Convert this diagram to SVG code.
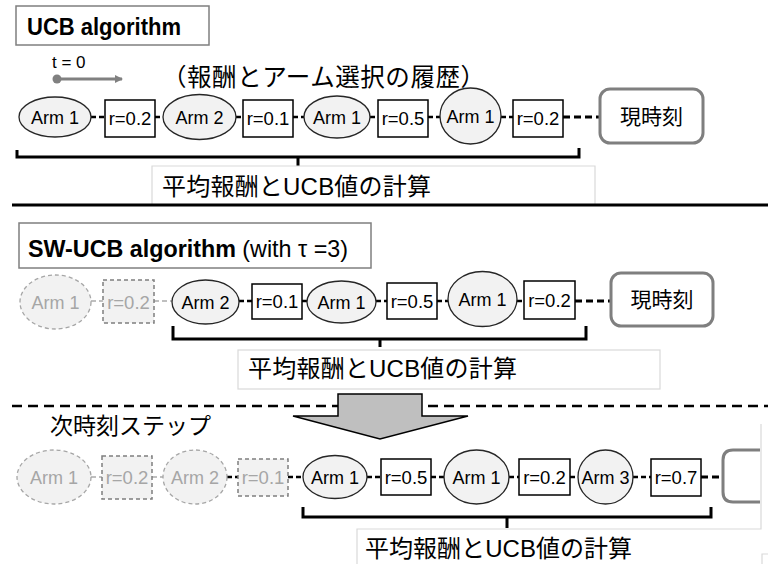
<svg xmlns="http://www.w3.org/2000/svg" width="768" height="564" viewBox="0 0 768 564">
<defs>
<style>
.arm{fill:#f2f2f2;stroke:#262626;stroke-width:1.3}
.box{fill:#fff;stroke:#000;stroke-width:1.5}
.farm{fill:#f2f2f2;stroke:#a6a6a6;stroke-width:1.3;stroke-dasharray:4 3}
.fbox{fill:#f2f2f2;stroke:#7f7f7f;stroke-width:1.5;stroke-dasharray:4 3}
.lbl{font-family:"Liberation Sans",Arial,sans-serif;font-size:18px;fill:#000;text-anchor:middle}
.rl{font-size:18.5px}
.flbl{fill:#a6a6a6}
.now{fill:#fff;stroke:#7f7f7f;stroke-width:3}
.nowt{font-family:"Noto Sans CJK JP",sans-serif;font-size:21px;fill:#000;text-anchor:middle}
.con{stroke:#000;stroke-width:2.5;stroke-dasharray:5 3;fill:none}
.fcon{stroke:#bfbfbf;stroke-width:2;stroke-dasharray:5 3;fill:none}
.brk{stroke:#000;stroke-width:3;fill:none}
.calc{fill:#fff;stroke:#d9d9d9;stroke-width:1.2}
.edge{fill:none;stroke:#d9d9d9;stroke-width:1.2}
.calct{font-family:"Liberation Sans","Noto Sans CJK JP",sans-serif;font-size:24px;fill:#000}
.cjk{font-family:"Noto Sans CJK JP",sans-serif;fill:#000}
.title{fill:#fff;stroke:#7f7f7f;stroke-width:1.5}
.tt{font-family:"Liberation Sans",Arial,sans-serif;font-size:24px;fill:#000}
</style>
<marker id="ah" markerWidth="8" markerHeight="8" refX="7" refY="4" orient="auto" markerUnits="userSpaceOnUse">
<path d="M0,0 L8,4 L0,8 Z" fill="#808080"/>
</marker>
</defs>
<rect width="768" height="564" fill="#fff"/>

<!-- ===== UCB section ===== -->
<g id="ucb-title">
<rect class="title" x="16" y="6" width="193" height="39"/>
<text class="tt" x="27" y="35" font-weight="bold" textLength="154" lengthAdjust="spacingAndGlyphs">UCB algorithm</text>
</g>
<g id="t0">
<text x="52" y="68" font-family="Liberation Sans,Arial,sans-serif" font-size="17" fill="#000">t = 0</text>
<circle cx="57" cy="79" r="4.5" fill="#808080"/>
<line x1="57" y1="79" x2="122" y2="79" stroke="#808080" stroke-width="3" marker-end="url(#ah)"/>
</g>
<text id="history" class="cjk" x="162" y="86" font-size="24.5" textLength="323" lengthAdjust="spacing">（報酬とアーム選択の履歴）</text>

<g id="connectors">
<!-- top row -->
<line class="con" x1="91" y1="117" x2="105" y2="117"/>
<line class="con" x1="155" y1="117" x2="163" y2="117"/>
<line class="con" x1="236" y1="117" x2="243" y2="117"/>
<line class="con" x1="293" y1="117" x2="304" y2="117"/>
<line class="con" x1="370" y1="117" x2="378" y2="117"/>
<line class="con" x1="428" y1="117" x2="440" y2="117"/>
<line class="con" x1="501" y1="117" x2="513" y2="117"/>
<line class="con" x1="563" y1="117" x2="600" y2="117" style="stroke-width:3;stroke-dasharray:7 4"/>
<!-- middle row -->
<line class="fcon" x1="91" y1="301" x2="103" y2="301"/>
<line class="fcon" x1="154" y1="301" x2="172" y2="301"/>
<line class="con" x1="239" y1="301" x2="252" y2="301"/>
<line class="con" x1="302" y1="301" x2="307" y2="301"/>
<line class="con" x1="376" y1="301" x2="387" y2="301"/>
<line class="con" x1="437" y1="301" x2="448" y2="301"/>
<line class="con" x1="517" y1="301" x2="524" y2="301"/>
<line class="con" x1="575" y1="301" x2="611" y2="301" style="stroke-width:3;stroke-dasharray:7 4"/>
<!-- bottom row -->
<line class="fcon" x1="91" y1="477" x2="102" y2="477"/>
<line class="fcon" x1="152" y1="477" x2="163" y2="477"/>
<line class="con" x1="227" y1="477" x2="238" y2="477"/>
<line class="con" x1="288" y1="477" x2="303" y2="477"/>
<line class="con" x1="367" y1="477" x2="381" y2="477"/>
<line class="con" x1="431" y1="477" x2="444" y2="477"/>
<line class="con" x1="509" y1="477" x2="519" y2="477"/>
<line class="con" x1="570" y1="477" x2="578" y2="477"/>
<line class="con" x1="633" y1="477" x2="651" y2="477"/>
<line class="con" x1="701" y1="477" x2="723" y2="477" style="stroke-width:3;stroke-dasharray:7 4"/>
</g>

<!-- top row nodes -->
<g id="t-arm1a"><ellipse class="arm" cx="55" cy="117" rx="36" ry="20"/><text class="lbl" x="55" y="123.5">Arm 1</text></g>
<g id="t-r1"><rect class="box" x="105" y="100" width="50" height="37"/><text class="lbl rl" x="130" y="124.5">r=0.2</text></g>
<g id="t-arm2"><ellipse class="arm" cx="199.5" cy="117" rx="36.5" ry="22.5"/><text class="lbl" x="199.5" y="123.5">Arm 2</text></g>
<g id="t-r2"><rect class="box" x="243" y="100" width="50" height="37"/><text class="lbl rl" x="268" y="124.5">r=0.1</text></g>
<g id="t-arm1b"><ellipse class="arm" cx="337" cy="117" rx="33" ry="21"/><text class="lbl" x="337" y="123.5">Arm 1</text></g>
<g id="t-r3"><rect class="box" x="378" y="100" width="50" height="37"/><text class="lbl rl" x="403" y="124.5">r=0.5</text></g>
<g id="t-arm1c"><ellipse class="arm" cx="470.5" cy="116" rx="30.5" ry="28"/><text class="lbl" x="470.5" y="122.5">Arm 1</text></g>
<g id="t-r4"><rect class="box" x="513" y="100" width="50" height="37"/><text class="lbl rl" x="538" y="124.5">r=0.2</text></g>
<g id="t-now"><rect class="now" x="600" y="89" width="103" height="54" rx="10"/><text class="nowt" x="651.5" y="124">現時刻</text></g>

<g id="t-bracket">
<path class="brk" d="M17,150 V157 H579 V148 M298,157 V166"/>
</g>
<g id="t-calc">
<path class="calc" d="M152,205 V166 H595 V205"/>
<text class="calct" x="162" y="195" textLength="269" lengthAdjust="spacing">平均報酬とUCB値の計算</text>
</g>

<line id="sep" x1="12" y1="205" x2="768" y2="205" stroke="#000" stroke-width="3"/>

<!-- ===== SW-UCB section ===== -->
<g id="sw-title">
<rect class="title" x="19" y="223" width="352" height="45"/>
<text class="tt" x="28" y="257" textLength="320" lengthAdjust="spacingAndGlyphs"><tspan font-weight="bold">SW-UCB algorithm</tspan><tspan> (with τ =3)</tspan></text>
</g>

<g id="m-farm1"><ellipse class="farm" cx="55.5" cy="302" rx="35.5" ry="27"/><text class="lbl flbl" x="55.5" y="308.5">Arm 1</text></g>
<g id="m-fr1"><rect class="fbox" x="103" y="280" width="51" height="43"/><text class="lbl rl flbl" x="128.5" y="308.5">r=0.2</text></g>
<g id="m-arm2"><ellipse class="arm" cx="205.5" cy="302" rx="33.5" ry="22"/><text class="lbl" x="205.5" y="308.5">Arm 2</text></g>
<g id="m-r2"><rect class="box" x="252" y="284" width="50" height="35"/><text class="lbl rl" x="277" y="308">r=0.1</text></g>
<g id="m-arm1a"><ellipse class="arm" cx="341.5" cy="302" rx="34.5" ry="21"/><text class="lbl" x="341.5" y="308.5">Arm 1</text></g>
<g id="m-r3"><rect class="box" x="387" y="283" width="50" height="36"/><text class="lbl rl" x="412" y="307.5">r=0.5</text></g>
<g id="m-arm1b"><ellipse class="arm" cx="482.5" cy="299" rx="34.5" ry="27.5"/><text class="lbl" x="482.5" y="305.5">Arm 1</text></g>
<g id="m-r4"><rect class="box" x="524" y="281" width="51" height="38"/><text class="lbl rl" x="549.5" y="306.5">r=0.2</text></g>
<g id="m-now"><rect class="now" x="611" y="273" width="102" height="53" rx="10"/><text class="nowt" x="662" y="307">現時刻</text></g>

<g id="m-bracket">
<path class="brk" d="M173,326 V339 H586 V326 M380,339 V347"/>
</g>
<g id="m-calc">
<rect class="calc" x="238" y="350" width="422" height="39"/>
<text class="calct" x="248" y="377" textLength="269" lengthAdjust="spacing">平均報酬とUCB値の計算</text>
</g>

<line id="dash-sep" x1="12" y1="406" x2="768" y2="406" stroke="#000" stroke-width="2.5" stroke-dasharray="10 6"/>
<g id="next-arrow">
<polygon points="338,394 422,394 422,416 468,416 380,439 293,416 338,416" fill="#bfbfbf" stroke="#000" stroke-width="1.5" stroke-linejoin="miter"/>
</g>

<!-- ===== Next step ===== -->
<text id="next-label" class="cjk" x="50" y="434" font-size="23">次時刻ステップ</text>

<g id="b-farm1"><ellipse class="farm" cx="54" cy="477" rx="37" ry="27"/><text class="lbl flbl" x="54" y="483.5">Arm 1</text></g>
<g id="b-fr1"><rect class="fbox" x="102" y="456" width="50" height="43"/><text class="lbl rl flbl" x="127" y="483.5">r=0.2</text></g>
<g id="b-farm2"><ellipse class="farm" cx="195" cy="477" rx="32" ry="27"/><text class="lbl flbl" x="195" y="483.5">Arm 2</text></g>
<g id="b-fr2"><rect class="fbox" x="238" y="459" width="50" height="37"/><text class="lbl rl flbl" x="263" y="483.5">r=0.1</text></g>
<g id="b-arm1a"><ellipse class="arm" cx="335" cy="477" rx="32" ry="21.5"/><text class="lbl" x="335" y="483.5">Arm 1</text></g>
<g id="b-r3"><rect class="box" x="381" y="459" width="50" height="36"/><text class="lbl rl" x="406" y="483.5">r=0.5</text></g>
<g id="b-arm1b"><ellipse class="arm" cx="476.5" cy="477" rx="32.5" ry="27"/><text class="lbl" x="476.5" y="483.5">Arm 1</text></g>
<g id="b-r4"><rect class="box" x="519" y="459" width="51" height="36"/><text class="lbl rl" x="544.5" y="483.5">r=0.2</text></g>
<g id="b-arm3"><ellipse class="arm" cx="605.5" cy="477" rx="27.5" ry="27"/><text class="lbl" x="605.5" y="483.5">Arm 3</text></g>
<g id="b-r5"><rect class="box" x="651" y="459" width="50" height="37"/><text class="lbl rl" x="676" y="484">r=0.7</text></g>
<g id="b-now"><path d="M760,450 H733 Q723,450 723,460 V492 Q723,502 733,502 H760" fill="none" stroke="#7f7f7f" stroke-width="3"/></g>

<g id="b-bracket">
<path class="brk" d="M303,507 V517 H711 V507 M507,517 V528"/>
</g>
<g id="b-calc">
<path class="edge" d="M357,564 V529 H761 V424"/>
<path class="edge" d="M768,554 H762 V564"/>
<text class="calct" x="365" y="557" textLength="267" lengthAdjust="spacing">平均報酬とUCB値の計算</text>
</g>
</svg>
